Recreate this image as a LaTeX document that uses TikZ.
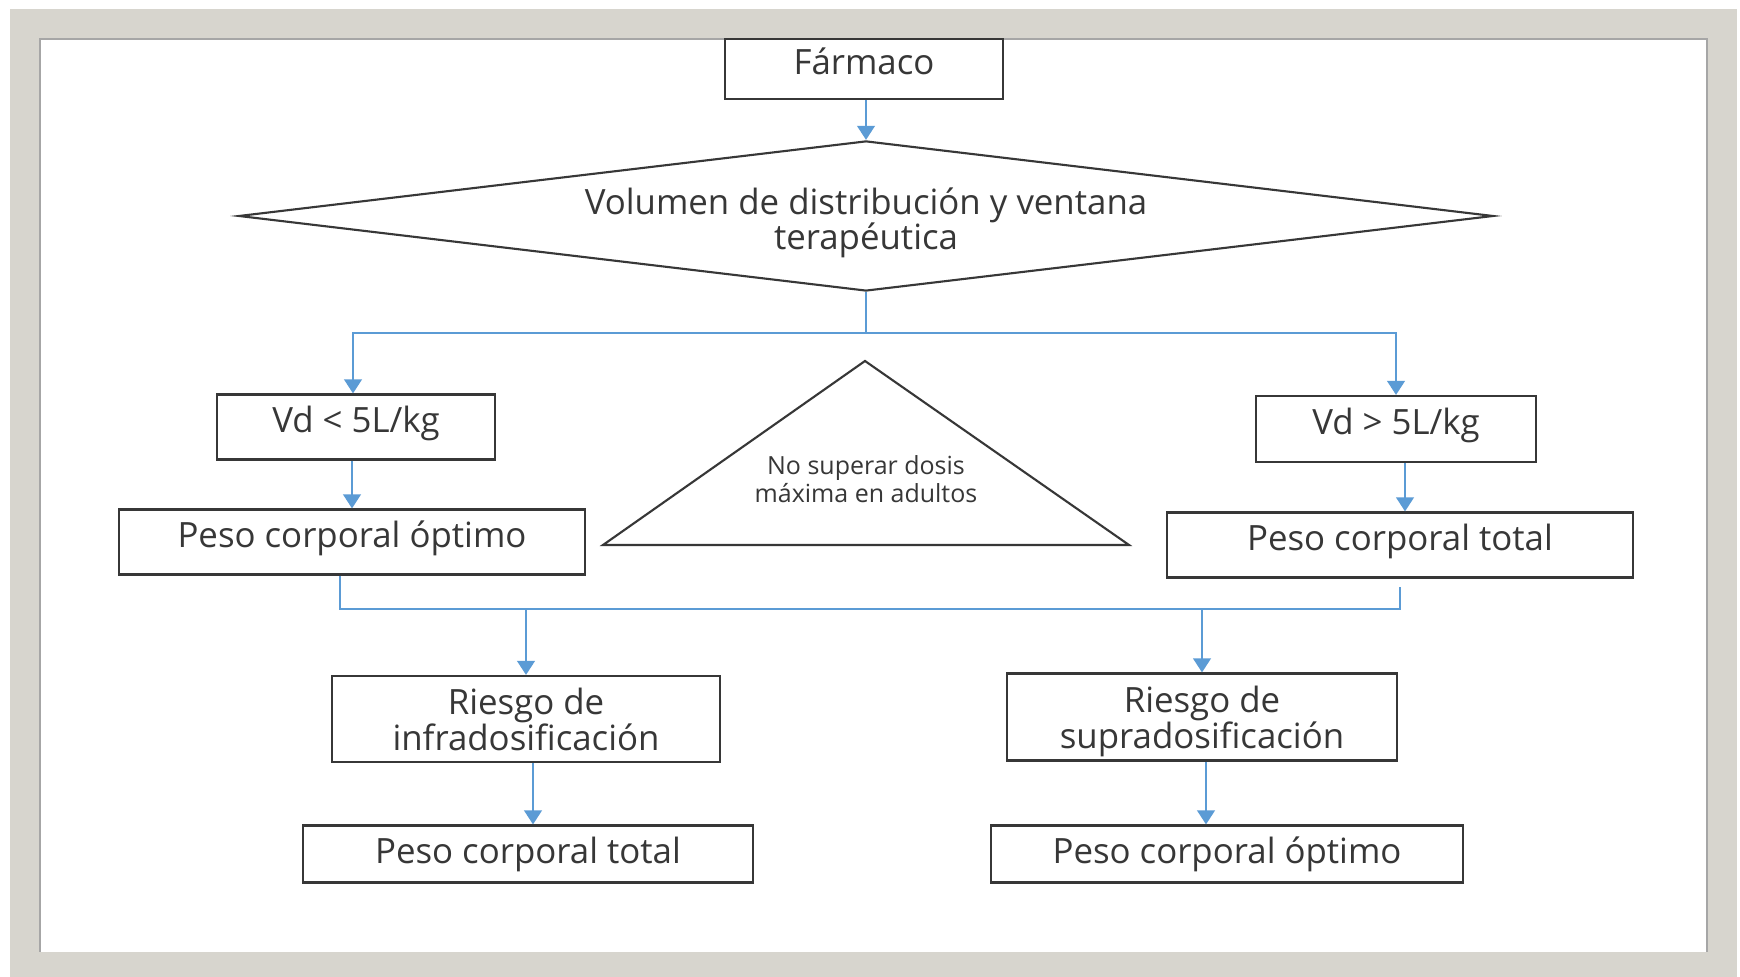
\documentclass[tikz,border=0pt]{standalone}
\usepackage{fontspec}
\setmainfont{Open Sans}
\usetikzlibrary{arrows.meta,positioning,shapes.geometric}
\definecolor{flowblue}{RGB}{91,155,213}
\definecolor{framegray}{RGB}{215,213,206}
\definecolor{inkgray}{RGB}{55,55,55}

\begin{document}
\begin{tikzpicture}[x=0.01cm,y=-0.01cm,>={Triangle[width=5pt,length=4pt]},
 box/.style={draw=inkgray,line width=0.6pt,align=center,text=inkgray,inner sep=0pt,
  font=\fontsize{9.9}{10.2}\selectfont},
 onebox/.style={box,text depth=4.5pt},
 lowbox/.style={box,text depth=2pt},
 twobox/.style={box,text depth=0pt},
 decision/.style={diamond,draw=inkgray,line width=0.6pt,align=center,text=inkgray,
  inner sep=-4pt,shape aspect=8.36,font=\fontsize{9.9}{10.2}\selectfont},
 flow/.style={->,draw=flowblue,line width=0.7pt},
 link/.style={draw=flowblue,line width=0.7pt}]
\useasboundingbox (0,0) rectangle (1740,977);
% frame
\fill[framegray] (10,9) rectangle (1737,977);
\fill[white] (40,39) rectangle (1707,952);
\draw[gray!70,line width=0.5pt] (40,952) -- (40,39) -- (1707,39) -- (1707,952);

\node[onebox,minimum width=2.78cm,minimum height=0.6cm] (farmaco) at (864,69) {Fármaco};
\node[decision,minimum width=12.54cm,minimum height=1.5cm] (vol) at (866,216)
 {\rule{0pt}{11.5pt}Volumen de distribución y ventana\\terapéutica};

\node[onebox,minimum width=2.78cm,minimum height=0.65cm] (vdlow) at (356,427) {Vd < 5L/kg};
\node[onebox,minimum width=2.79cm,minimum height=0.66cm] (vdhigh) at (1396,429) {Vd > 5L/kg};
\node[onebox,minimum width=4.65cm,minimum height=0.65cm] (optL) at (352,542) {Peso corporal óptimo};
\node[onebox,minimum width=4.65cm,minimum height=0.65cm] (totR) at (1400,545) {Peso corporal total};

% triangle in the middle
\coordinate (apex) at (865,361);
\coordinate (baseL) at (603,545);
\coordinate (baseR) at (1129,545);
\draw[inkgray,line width=0.6pt] (apex) -- (baseR) -- (baseL) -- cycle;
\node[align=center,text=inkgray,font=\fontsize{7.1}{7}\selectfont] (limit) at (866,479)
 {No superar dosis\\máxima en adultos};

\node[twobox,minimum width=3.88cm,minimum height=0.86cm] (infra) at (526,719) {Riesgo de\\infradosificación};
\node[twobox,minimum width=3.89cm,minimum height=0.87cm] (supra) at (1202,717) {Riesgo de\\supradosificación};
\node[lowbox,minimum width=4.49cm,minimum height=0.57cm] (totL) at (528,854) {Peso corporal total};
\node[lowbox,minimum width=4.72cm,minimum height=0.57cm] (optR) at (1227,854) {Peso corporal óptimo};

\coordinate (split) at (866,333);
\coordinate (merge) at (866,609);

\draw[flow] (vol.north |- farmaco.south) -- (vol.north);
\draw[link] (vol.south) -- (split);
\draw[flow] (split) -| ([xshift=-0.03cm]vdlow.north);
\draw[flow] (split) -| (vdhigh.north);
\draw[flow] ([xshift=-0.04cm]vdlow.south) -- ([xshift=-0.04cm]vdlow.south |- optL.north);
\draw[flow] ([xshift=0.05cm]totR.north |- vdhigh.south) -- ([xshift=0.05cm]totR.north);
\draw[link] ([xshift=-0.12cm]optL.south) -- ([xshift=-0.12cm]optL.south |- merge)
 -- (totR.south |- merge) -- ([yshift=-0.08cm]totR.south);
\draw[flow] (infra.north |- merge) -- (infra.north);
\draw[flow] (supra.north |- merge) -- (supra.north);
\draw[flow] ([xshift=0.07cm]infra.south) -- ([xshift=0.07cm]infra.south |- totL.north);
\draw[flow] ([xshift=0.04cm]supra.south) -- ([xshift=0.04cm]supra.south |- optR.north);
\end{tikzpicture}
\end{document}
